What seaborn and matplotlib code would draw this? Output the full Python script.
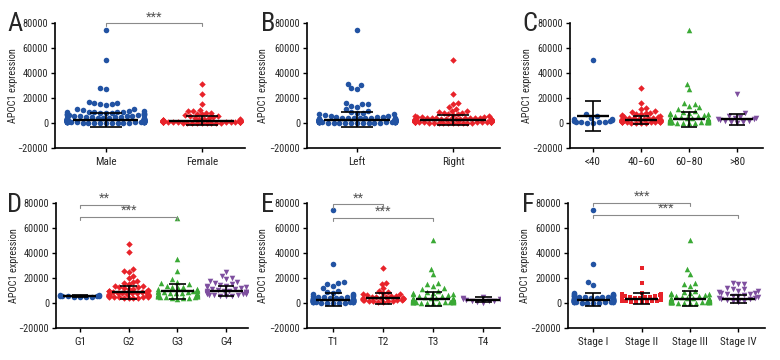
import warnings
warnings.filterwarnings("ignore")
import numpy as np
import pandas as pd
import matplotlib
matplotlib.use("Agg")
import matplotlib.pyplot as plt
from matplotlib import font_manager as fm
import seaborn as sns

# ---------------- data ----------------
A_cats = ["Male", "Female"]
A_male = [74000, 50000, 28000, 27500, 16500, 16000, 15800, 15500, 15000, 14500, 11500, 11000, 10800,
          9600, 9400, 9200, 9100, 9000, 8900, 8700, 8500, 8300, 8100, 7900, 7700, 7500, 7300, 7100, 6900,
          6700, 6500, 6300, 6100, 5900, 5700, 5500, 5300, 5100, 4900, 4700, 4500, 4300, 4100, 3900, 3800,
          3700, 3600, 3500, 3400, 3300, 3200, 3100, 3000, 2950, 2900, 2850, 2800, 2750, 2700, 2650, 2600,
          2550, 2500, 2450, 2400, 2350, 2300, 2250, 2200, 2150, 2100, 2050, 2000, 1950, 1900, 1850, 1800,
          1750, 1700, 1650, 1600, 1550, 1500, 1450, 1400, 1350, 1300, 1250, 1200, 1150, 1100, 1050, 1000,
          950, 900, 850, 800, 750, 700, 650, 600, 550, 500, 450, 400, 350, 300, 250, 200, 150, 100]
A_female = [31500, 23000, 15000, 10500, 10000, 9500, 8500, 8000, 7600, 7000, 6500, 6000, 5500, 5000, 4500,
            4000, 3600, 3300, 3000, 2800, 2600, 2500, 2400, 2300, 2200, 2100, 2000, 1900, 1800, 1700, 1600,
            1500, 1450, 1400, 1350, 1300, 1250, 1200, 1150, 1100, 1050, 1000, 950, 900, 850, 800, 750, 700,
            650, 600, 550, 500, 450, 400, 350, 300, 250, 200, 150, 100]
A_mean = [2700, 2100]
A_sd = [5700, 3600]

B_cats = ["Left", "Right"]
B_left = [74000, 31500, 30500, 28000, 27500, 16000, 15500, 15000, 14000, 12500, 11000, 10000, 9000, 8500,
          8000, 7500, 7000, 6500, 6000, 5500, 5000, 4800, 4600, 4400, 4300, 4200, 4100, 4000, 3900, 3800,
          3700, 3600, 3500, 3400, 3300, 3200, 3100, 3000, 2950, 2900, 2850, 2800, 2750, 2700, 2650, 2600,
          2550, 2500, 2450, 2400, 2350, 2300, 2250, 2200, 2150, 2100, 2050, 2000, 1950, 1900, 1850, 1800,
          1750, 1700, 1650, 1600, 1550, 1500, 1450, 1400, 1350, 1300, 1250, 1200, 1150, 1100, 1050, 1000,
          950, 900, 850, 800, 750, 700, 650, 600, 550, 500, 450, 400, 350, 300, 250, 200, 150, 100, 50]
B_right = [50000, 23000, 16000, 15500, 13000, 11000, 10000, 9500, 9000, 8500, 8000, 7500, 7000, 6500, 6000,
           5500, 5000, 4800, 4600, 4400, 4300, 4200, 4100, 4000, 3900, 3800, 3700, 3600, 3500, 3400, 3300,
           3200, 3100, 3000, 2950, 2900, 2850, 2800, 2750, 2700, 2650, 2600, 2550, 2500, 2450, 2400, 2350,
           2300, 2250, 2200, 2150, 2100, 2050, 2000, 1950, 1900, 1850, 1800, 1750, 1700, 1650, 1600, 1550,
           1500, 1450, 1400, 1350, 1300, 1250, 1200, 1150, 1100, 1050, 1000, 950, 900, 850, 800, 750, 700,
           650, 600, 550, 500, 450, 400, 350, 300, 250, 200, 150, 100, 50]
B_mean = [2900, 2300]
B_sd = [5900, 4000]

C_cats = ["<40", "40\u221260", "60\u221280", ">80"]
C_lt40 = [50000, 7000, 5500, 4500, 3500, 3000, 2500, 2000, 1500, 1200, 1000, 800, 600, 500, 300]
C_40_60 = [28000, 16000, 12000, 11000, 10000, 9000, 8500, 8000, 7500, 7000, 6500, 6000, 5500, 5000, 4800,
           4500, 4200, 4000, 3800, 3600, 3400, 3200, 3000, 2900, 2800, 2700, 2600, 2500, 2400, 2300, 2200,
           2100, 2000, 1900, 1800, 1700, 1600, 1500, 1400, 1300, 1200, 1100, 1000, 900, 800, 700, 600,
           500, 400, 300, 200]
C_60_80 = [74000, 31000, 27000, 16000, 15000, 14000, 12500, 11000, 10000, 9000, 8500, 8000, 7500, 7000,
           6500, 6000, 5500, 5000, 4500, 4200, 4000, 3800, 3600, 3400, 3200, 3000, 2900, 2800, 2700, 2600,
           2500, 2400, 2300, 2200, 2100, 2000, 1900, 1800, 1700, 1600, 1500, 1400, 1300, 1200, 1100, 1000,
           900, 800, 700, 600, 500, 400, 300, 200]
C_gt80 = [23000, 8000, 6000, 5000, 4500, 4000, 3500, 3000, 2500, 2000, 1500, 1000, 800, 500]
C_mean = [5400, 2500, 3000, 3000]
C_sd = [12000, 3000, 5800, 4600]

D_cats = ["G1", "G2", "G3", "G4"]
D_G1 = [6500, 6200, 6000, 5800, 5600, 5500, 5400, 5300, 5200, 5000, 4800]
D_G2 = [47000, 41000, 27000, 26000, 25000, 22000, 20000, 18000, 17000, 16000, 15000, 14000, 13500, 13000,
        12500, 12000, 11500, 11000, 10500, 10000, 9800, 9500, 9200, 9000, 8800, 8500, 8200, 8000, 7800,
        7500, 7200, 7000, 6800, 6600, 6500, 6400, 6200, 6000, 5900, 5800, 5600, 5500, 5400, 5200, 5000,
        4900, 4800, 4600, 4500, 4300, 4200, 4000]
D_G3 = [68000, 35000, 26000, 19000, 17000, 16000, 15000, 14000, 13000, 12500, 12000, 11500, 11000, 10500,
        10000, 9800, 9500, 9200, 9000, 8800, 8500, 8200, 8000, 7800, 7500, 7200, 7000, 6800, 6600, 6500,
        6400, 6200, 6000, 5900, 5800, 5600, 5500, 5400, 5200, 5000, 4800, 4500, 4200, 4000, 3500]
D_G4 = [25000, 22000, 20000, 19000, 18000, 17000, 16000, 15000, 14500, 14000, 13500, 13000, 12500, 12000,
        11500, 11000, 10500, 10000, 9800, 9500, 9200, 9000, 8800, 8500, 8200, 8000, 7800, 7500, 7200, 7000,
        6800, 6500, 6200, 6000, 5800, 5500]
D_mean = [5600, 8700, 9300, 10000]
D_sd = [700, 5200, 5600, 4000]

E_cats = ["T1", "T2", "T3", "T4"]
E_T1 = [74000, 31000, 16500, 16000, 15000, 14000, 12000, 10000, 9000, 8000, 7500, 7000, 6500, 6000, 5500,
        5000, 4800, 4600, 4400, 4200, 4000, 3800, 3600, 3400, 3200, 3000, 2900, 2800, 2700, 2600, 2500,
        2400, 2300, 2200, 2100, 2000, 1900, 1800, 1700, 1600, 1500, 1400, 1300, 1200, 1100, 1000, 900,
        800, 700, 600, 500, 400, 300, 200, 100]
E_T2 = [28000, 16000, 15500, 12000, 10000, 9000, 8000, 7500, 7000, 6500, 6000, 5500, 5000, 4800, 4600,
        4400, 4200, 4000, 3800, 3600, 3400, 3200, 3000, 2800, 2600, 2400, 2200, 2000, 1800, 1600, 1400,
        1200, 1000]
E_T3 = [50000, 27000, 23000, 16000, 15000, 14000, 12000, 11000, 10000, 9000, 8500, 8000, 7500, 7000, 6500,
        6000, 5500, 5000, 4500, 4200, 4000, 3800, 3600, 3400, 3200, 3000, 2900, 2800, 2700, 2600, 2500,
        2400, 2300, 2200, 2100, 2000, 1900, 1800, 1700, 1600, 1500, 1400, 1300, 1200, 1100, 1000, 900,
        800, 700, 600, 500, 400, 300, 200]
E_T4 = [5000, 4500, 4000, 3500, 3000, 3000, 2500, 2000, 2000, 1500, 1000, 500]
E_mean = [2700, 3800, 3500, 2800]
E_sd = [5300, 4500, 5500, 2000]

F_cats = ["Stage I", "Stage II", "Stage III", "Stage IV"]
F_I = [74000, 31500, 16500, 14500, 8000, 7500, 7000, 6800, 6500, 6200, 6000, 5800, 5500, 5200, 5000, 4800,
       4600, 4400, 4200, 4000, 3800, 3600, 3400, 3200, 3000, 2900, 2800, 2700, 2600, 2500, 2400, 2300,
       2200, 2100, 2000, 1900, 1800, 1700, 1600, 1500, 1400, 1300, 1200, 1100, 1000, 900, 800, 700, 600,
       500, 400, 300, 200]
F_II = [28000, 16000, 8000, 7500, 7000, 6500, 6000, 5500, 5000, 4800, 4600, 4400, 4200, 4000, 3800, 3600,
        3400, 3200, 3000, 2800, 2600, 2400, 2200, 2000, 1800, 1600, 1400, 1200, 1000, 800, 600]
F_III = [50000, 27000, 23000, 16000, 15500, 14000, 10000, 9000, 8500, 8000, 7500, 7000, 6500, 6000, 5500,
         5000, 4500, 4200, 4000, 3800, 3600, 3400, 3200, 3000, 2900, 2800, 2700, 2600, 2500, 2400, 2300,
         2200, 2100, 2000, 1900, 1800, 1700, 1600, 1500, 1400, 1300, 1200, 1100, 1000, 900, 800, 700, 600,
         500, 400, 300, 200]
F_IV = [16000, 15500, 15000, 12000, 11500, 11000, 10000, 9500, 9000, 8500, 8000, 7500, 7000, 6500, 6000,
        5500, 5000, 4500, 4000, 3500, 3000, 2500, 2000, 1500, 1000]
F_mean = [2800, 3700, 3700, 3500]
F_sd = [5000, 4700, 5600, 3000]

# significance brackets: (group i, group j, y, label)
A_sig = [(0, 1, 79500, "***")]
D_sig = [(0, 1, 78500, "**"), (0, 2, 68800, "***")]
E_sig = [(0, 1, 78600, "**"), (0, 2, 68100, "***")]
F_sig = [(0, 2, 80000, "***"), (0, 3, 70500, "***")]

# ---------------- style ----------------
sns.set_style("ticks")

# pick a narrow font if one is installed
_fonts = fm.fontManager.ttflist
_names = {f.name for f in _fonts}
FONT = None
for cand in ["Roboto Condensed", "Liberation Sans Narrow", "Open Sans Condensed", "Noto Sans Condensed"]:
    if cand in _names:
        FONT = [cand, "DejaVu Sans"]
        break
if FONT is None and any(f.name == "DejaVu Sans" and "condensed" in str(f.stretch).lower()
                        for f in _fonts):
    FONT = ["DejaVu Sans", "DejaVu Sans"]
    plt.rcParams["font.stretch"] = "condensed"
    FS = 6.8
elif FONT is None:
    FONT = ["Liberation Sans", "DejaVu Sans"]
    FS = 6.4
else:
    FS = 7.4
plt.rcParams["font.family"] = FONT

BLUE, RED, GREEN, PURPLE = "#2253a3", "#e8232a", "#3aa935", "#7e4f9f"

fig = plt.figure(figsize=(7.8, 3.6), dpi=100)
W, H = 780.0, 360.0


def make_ax(x0, x1, ytop, ybot):
    return fig.add_axes([x0 / W, 1 - ybot / H, (x1 - x0) / W, (ybot - ytop) / H])


S_O, S_D, S_S = 4.0, 3.3, 3.5
# letter, axes, cats, groups, means, sds, brackets, marker styles, xlim, letter pos, ylabel x (px)
panels = [
    ("A", make_ax(55, 245, 22.7, 148.3), A_cats, [A_male, A_female], A_mean, A_sd, A_sig,
     [(BLUE, "o", S_O), (RED, "D", S_D)], (-0.53, 1.45), (7, 31), 18),
    ("B", make_ax(307, 500, 22.7, 148.3), B_cats, [B_left, B_right], B_mean, B_sd, [],
     [(BLUE, "o", S_O), (RED, "D", S_D)], (-0.52, 1.49), (261, 31), 268),
    ("C", make_ax(570, 763, 22.7, 148.3), C_cats, [C_lt40, C_40_60, C_60_80, C_gt80], C_mean, C_sd, [],
     [(BLUE, "o", S_O), (RED, "D", S_D), (GREEN, "^", S_O), (PURPLE, "v", S_O)], (-0.48, 3.54), (522, 31), 532),
    ("D", make_ax(56, 248, 202.7, 328.3), D_cats, [D_G1, D_G2, D_G3, D_G4], D_mean, D_sd, D_sig,
     [(BLUE, "o", S_O), (RED, "D", S_D), (GREEN, "^", S_O), (PURPLE, "v", S_O)], (-0.49, 3.45), (7, 212), 19),
    ("E", make_ax(307, 500, 202.7, 328.3), E_cats, [E_T1, E_T2, E_T3, E_T4], E_mean, E_sd, E_sig,
     [(BLUE, "o", S_O), (RED, "D", S_D), (GREEN, "^", S_O), (PURPLE, "v", S_O)], (-0.52, 3.34), (261, 212), 268),
    ("F", make_ax(568, 765, 202.7, 328.3), F_cats, [F_I, F_II, F_III, F_IV], F_mean, F_sd, F_sig,
     [(BLUE, "o", S_O), (RED, "s", S_S), (GREEN, "^", S_O), (PURPLE, "v", S_O)], (-0.52, 3.55), (522, 212), 530),
]

for letter, ax, cats, groups, means, sds, sigs, styles, xlim, lpos, ylx in panels:
    ax.set_ylim(-20000, 80000)
    ax.set_xlim(*xlim)
    for cat, vals, (col, mk, sz) in zip(cats, groups, styles):
        df = pd.DataFrame({"group": [cat] * len(vals), "value": vals})
        sns.swarmplot(data=df, x="group", y="value", order=cats, color=col, marker=mk,
                      size=sz, linewidth=0, ax=ax, zorder=2)
    n = len(cats)
    for i, (m, s) in enumerate(zip(means, sds)):
        ax.hlines(m, i - 0.34, i + 0.34, color="black", lw=1.7, zorder=5)
        ax.vlines(i, m - s, m + s, color="black", lw=1.2, zorder=5)
        ax.hlines([m - s, m + s], i - 0.17, i + 0.17, color="black", lw=1.2, zorder=5)
    for (i, j, y, lab) in sigs:
        ax.plot([i, i, j, j], [y - 2500, y, y, y - 2500], color="#8a8a8a", lw=0.8,
                zorder=4, clip_on=False)
        ax.text((i + j) / 2, y - 100, lab, ha="center", va="bottom", fontsize=FS + 1.8,
                color="#555555", family=FONT)
    ax.set_ylim(-20000, 80000)
    ax.set_xlim(*xlim)
    ax.set_yticks([-20000, 0, 20000, 40000, 60000, 80000])
    ax.set_yticklabels(["\u221220000", "0", "20000", "40000", "60000", "80000"])
    ax.set_xticks(range(n))
    ax.set_xticklabels(cats)
    ax.set_xlabel("")
    ax.set_ylabel("APOC1 expression", fontsize=FS)
    bb = ax.get_position()
    ax.yaxis.set_label_coords((ylx / W - bb.x0) / bb.width, 0.5)
    ax.tick_params(axis="both", labelsize=FS, width=1.0, length=3, color="black", pad=2)
    ax.tick_params(axis="x", labelsize=FS + 0.6, pad=3)
    for sp in ["top", "right"]:
        ax.spines[sp].set_visible(False)
    for sp in ["left", "bottom"]:
        ax.spines[sp].set_linewidth(1.2)
        ax.spines[sp].set_color("black")
    fig.text(lpos[0] / W, 1 - lpos[1] / H, letter, fontsize=19, ha="left", va="baseline",
             family=FONT)

fig.savefig("out.png", dpi=100)
